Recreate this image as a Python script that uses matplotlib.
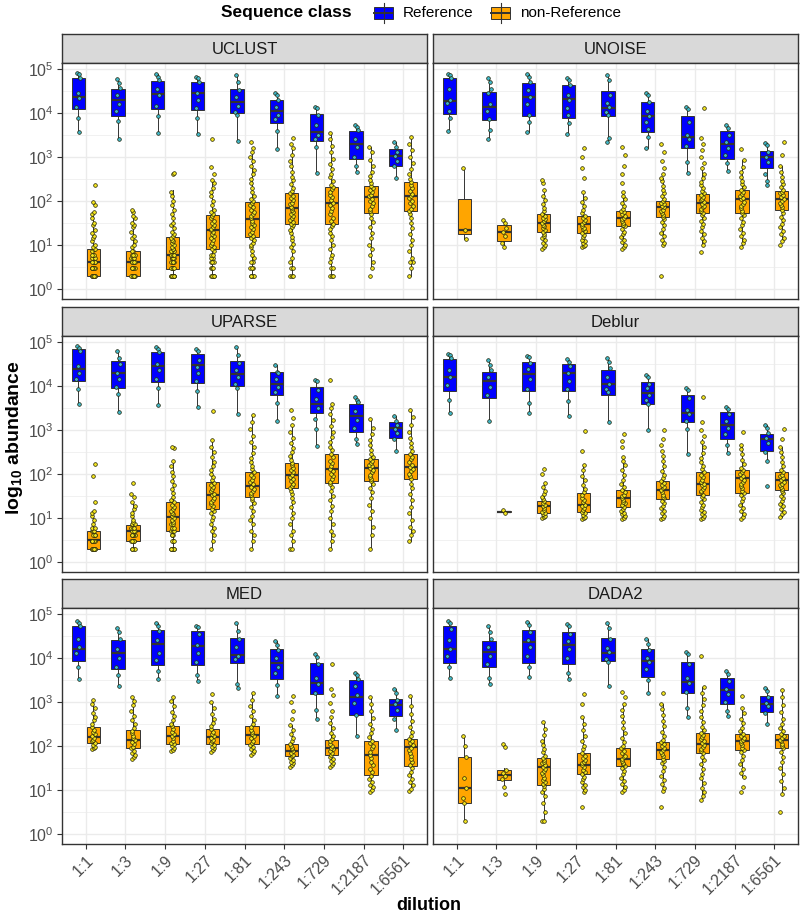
"""Abundance of reference vs non-reference sequences per clustering/denoising method."""

import numpy as np
import matplotlib
matplotlib.use('Agg')
import matplotlib.pyplot as plt
from matplotlib.patches import Rectangle
from matplotlib.ticker import FixedLocator, NullFormatter

plt.rcParams.update({
    'font.family': ['Liberation Sans', 'DejaVu Sans'],
    'mathtext.fontset': 'custom',
    'mathtext.rm': 'Liberation Sans',
    'mathtext.it': 'Liberation Sans:italic',
    'mathtext.bf': 'Liberation Sans:bold',
})

# ── Data (all values are log10 abundance) ────────────────────────────────────
DILUTIONS = ['1:1', '1:3', '1:9', '1:27', '1:81', '1:243', '1:729', '1:2187', '1:6561']
METHODS = ['UCLUST', 'UNOISE', 'UPARSE', 'Deblur', 'MED', 'DADA2']

# box stats per dilution: [lower whisker, q1, median, q3, upper whisker]
UCLUST_REF = [[3.57, 4.08, 4.36, 4.80, 4.90], [3.40, 3.93, 4.28, 4.55, 4.77], [3.55, 4.08, 4.43, 4.73, 4.87],
              [3.51, 4.07, 4.45, 4.70, 4.81], [3.36, 3.99, 4.24, 4.54, 4.86], [3.18, 3.77, 4.03, 4.30, 4.46],
              [2.64, 3.36, 3.57, 3.97, 4.13], [2.66, 2.95, 3.30, 3.58, 3.73], [2.52, 2.80, 3.01, 3.17, 3.33]]
UCLUST_NON = [[0.30, 0.30, 0.61, 0.90, 1.75], [0.30, 0.30, 0.61, 0.85, 1.65], [0.30, 0.46, 0.78, 1.17, 2.25],
              [0.30, 0.90, 1.33, 1.68, 2.48], [0.30, 1.17, 1.59, 1.97, 3.12], [0.30, 1.47, 1.83, 2.17, 3.20],
              [0.30, 1.48, 1.96, 2.31, 3.54], [0.51, 1.73, 2.09, 2.34, 3.23], [0.30, 1.78, 2.11, 2.42, 3.44]]
UNOISE_REF = [[3.58, 3.98, 4.27, 4.80, 4.89], [3.40, 3.83, 4.14, 4.47, 4.78], [3.56, 3.92, 4.36, 4.67, 4.87],
              [3.51, 3.87, 4.31, 4.63, 4.80], [3.34, 3.93, 4.11, 4.50, 4.86], [3.19, 3.57, 3.92, 4.24, 4.46],
              [2.64, 3.20, 3.44, 3.93, 4.13], [2.67, 2.96, 3.30, 3.58, 3.73], [2.37, 2.74, 2.99, 3.13, 3.31]]
UNOISE_NON = [[1.14, 1.24, 1.34, 2.03, 2.74], [0.95, 1.08, 1.30, 1.45, 1.57], [0.90, 1.30, 1.50, 1.70, 2.25],
              [0.94, 1.27, 1.48, 1.66, 2.21], [0.90, 1.42, 1.62, 1.77, 2.21], [1.00, 1.64, 1.85, 1.99, 2.52],
              [1.00, 1.73, 1.95, 2.15, 2.78], [0.96, 1.73, 2.05, 2.25, 2.93], [1.08, 1.80, 2.05, 2.23, 2.78]]
UPARSE_REF = [[3.59, 4.10, 4.38, 4.83, 4.90], [3.40, 3.94, 4.30, 4.56, 4.79], [3.57, 4.09, 4.45, 4.76, 4.89],
              [3.52, 4.07, 4.47, 4.73, 4.83], [3.35, 4.00, 4.26, 4.56, 4.88], [3.20, 3.78, 4.04, 4.32, 4.48],
              [2.64, 3.37, 3.59, 3.98, 4.14], [2.67, 2.96, 3.31, 3.59, 3.75], [2.52, 2.81, 3.05, 3.18, 3.32]]
UPARSE_NON = [[0.30, 0.30, 0.49, 0.71, 1.16], [0.30, 0.48, 0.71, 0.84, 1.35], [0.30, 0.69, 1.01, 1.35, 2.30],
              [0.30, 1.19, 1.53, 1.82, 2.76], [0.30, 1.47, 1.72, 2.03, 3.33], [0.30, 1.68, 1.98, 2.25, 3.10],
              [0.30, 1.79, 2.10, 2.45, 3.44], [0.30, 1.83, 2.14, 2.33, 3.25], [0.48, 1.88, 2.15, 2.44, 3.46]]
DEBLUR_REF = [[3.38, 3.89, 4.19, 4.61, 4.73], [3.20, 3.73, 4.11, 4.32, 4.58], [3.37, 3.89, 4.26, 4.53, 4.68],
              [3.32, 3.89, 4.28, 4.50, 4.60], [3.17, 3.80, 4.04, 4.36, 4.64], [2.99, 3.59, 3.84, 4.09, 4.25],
              [2.44, 3.18, 3.37, 3.78, 3.95], [2.48, 2.79, 3.10, 3.40, 3.52], [2.28, 2.52, 2.79, 2.91, 3.12]]
DEBLUR_NON = [None, [1.12, 1.13, 1.14, 1.16, 1.17], [0.99, 1.11, 1.28, 1.39, 1.79],
              [0.97, 1.14, 1.29, 1.56, 2.19], [0.97, 1.25, 1.44, 1.63, 2.38], [0.97, 1.42, 1.63, 1.83, 2.45],
              [0.97, 1.53, 1.76, 2.04, 2.80], [0.97, 1.57, 1.90, 2.08, 2.66], [1.03, 1.64, 1.85, 2.03, 2.61]]
MED_REF = [[3.52, 3.92, 4.20, 4.71, 4.83], [3.36, 3.74, 4.11, 4.40, 4.68], [3.52, 3.84, 4.32, 4.62, 4.79],
           [3.48, 3.83, 4.27, 4.60, 4.73], [3.32, 3.89, 4.06, 4.45, 4.79], [3.13, 3.52, 3.88, 4.20, 4.38],
           [2.61, 3.18, 3.42, 3.88, 4.08], [2.23, 2.71, 3.11, 3.50, 3.65], [2.35, 2.67, 2.92, 3.06, 3.29]]
MED_NON = [[1.92, 2.07, 2.20, 2.42, 3.03], [1.70, 1.95, 2.14, 2.35, 3.11], [1.88, 2.03, 2.23, 2.45, 3.11],
           [1.86, 2.05, 2.20, 2.39, 2.99], [1.80, 2.03, 2.25, 2.46, 3.20], [1.52, 1.77, 1.89, 2.05, 2.47],
           [1.52, 1.80, 1.95, 2.14, 2.65], [0.95, 1.34, 1.80, 2.11, 3.11], [0.98, 1.54, 1.97, 2.15, 3.14]]
DADA2_REF = [[3.55, 3.89, 4.20, 4.73, 4.83], [3.41, 3.80, 4.14, 4.39, 4.71], [3.56, 3.89, 4.35, 4.62, 4.81],
             [3.52, 3.86, 4.30, 4.59, 4.76], [3.36, 3.92, 4.11, 4.45, 4.80], [3.20, 3.57, 3.92, 4.20, 4.42],
             [2.65, 3.19, 3.44, 3.90, 4.12], [2.67, 2.95, 3.26, 3.55, 3.71], [2.50, 2.77, 2.95, 3.14, 3.31]]
DADA2_NON = [[0.30, 0.70, 1.04, 1.74, 2.23], [1.06, 1.23, 1.34, 1.45, 1.50], [0.30, 1.11, 1.52, 1.73, 2.54],
             [0.95, 1.36, 1.57, 1.84, 2.65], [0.95, 1.54, 1.69, 1.95, 2.95], [0.98, 1.70, 1.91, 2.08, 2.95],
             [0.77, 1.83, 2.05, 2.29, 3.33], [1.29, 1.91, 2.12, 2.27, 2.86], [0.91, 1.95, 2.14, 2.27, 3.26]]

# individual observations ("v*n" = n observations at v)
UCLUST_REF_PTS = ["4.90 4.88 4.79 4.45 4.33 4.14 3.87 3.57", "4.77 4.68 4.57 4.40 4.20 4.05 3.82 3.40",
                  "4.87 4.82 4.75 4.55 4.40 4.15 3.93 3.55", "4.81 4.78 4.70 4.45 4.30 4.10 3.88 3.51",
                  "4.86 4.70 4.52 4.36 4.15 4.02 3.95 3.36", "4.46 4.40 4.30 4.12 3.95 3.85 3.58 3.18",
                  "4.13 4.10 3.95 3.72 3.50 3.40 3.22 2.64", "3.73 3.67 3.60 3.40 3.22 3.00 2.78 2.66",
                  "3.33 3.22 3.10 3.02 2.90 2.78 2.52"]
UCLUST_NON_PTS = [
    "0.30*8 0.48*6 0.60*5 0.70*4 0.78*3 0.85 0.90*2 0.95 1.0 1.08 1.15 1.2 1.28 1.34 1.45 1.5 1.62 1.7 1.75 1.9 1.97 2.36",
    "0.30*8 0.48*5 0.60*5 0.70*3 0.78*3 0.85*2 0.95 1.0 1.08 1.15 1.2 1.3 1.4 1.45 1.5 1.6 1.65 1.74 1.8",
    "0.30*10 0.48*6 0.60*5 0.70*4 0.78*4 0.85*3 0.90*2 0.95 1.0 1.04 1.08 1.11 1.15 1.2 1.25 1.3 1.38 1.45 1.5 1.6 "
    "1.7 1.8 1.9 2.0 2.1 2.2 2.6 2.63",
    "0.30*5 0.48*3 0.60*3 0.70*2 0.78*2 0.85 0.90 0.95 1.0 1.05 1.1 1.15 1.2 1.25 1.3 1.33 1.36 1.4 1.45 1.5 1.55 1.6 "
    "1.65 1.7 1.75 1.8 1.9 2.0 2.1 2.2 2.3 2.4 2.48 2.6 2.77 3.41",
    "0.30*4 0.48*3 0.60*2 0.70 0.78 0.85 0.95 1.0 1.05 1.1 1.15 1.2 1.25 1.3 1.35 1.4 1.45 1.5 1.55 1.6 1.65 1.7 1.75 "
    "1.8 1.85 1.9 1.95 2.0 2.05 2.1 2.2 2.3 2.4 2.5 2.6 2.7 2.8 2.9 3.0 3.1 3.2 3.33",
    "0.30*3 0.48*2 0.60 0.70 0.85 0.95 1.02 1.1 1.18 1.26 1.33 1.4 1.44 1.48 1.52 1.57 1.61 1.66 1.7 1.74 1.79 1.83 "
    "1.87 1.92 1.96 2.01 2.06 2.12 2.17 2.23 2.3 2.38 2.47 2.55 2.66 2.78 2.9 3.05 3.2 3.3 3.42",
    "0.30*3 0.48*2 0.60 0.70 0.78 0.9 1.0 1.1 1.2 1.28 1.36 1.42 1.48 1.55 1.62 1.7 1.77 1.84 1.9 1.96 2.02 2.08 2.14 "
    "2.2 2.26 2.31 2.37 2.45 2.53 2.62 2.72 2.84 2.96 3.1 3.25 3.4 3.54",
    "0.30 0.48 0.60 0.78 0.9 1.0 1.15 1.28 1.4 1.52 1.62 1.7 1.76 1.82 1.88 1.94 2.0 2.05 2.1 2.14 2.19 2.24 2.29 2.34 "
    "2.4 2.47 2.56 2.66 2.78 2.92 3.1 3.23",
    "0.30 0.48 0.60*2 0.70 0.85 1.0 1.12 1.25 1.38 1.5 1.6 1.7 1.76 1.82 1.88 1.94 2.0 2.06 2.11 2.16 2.22 2.28 2.35 "
    "2.42 2.5 2.6 2.72 2.86 3.0 3.15 3.3 3.44",
]
UNOISE_REF_PTS = ["4.89 4.86 4.80 4.55 4.30 4.22 4.05 3.87 3.58", "4.78 4.70 4.55 4.45 4.20 4.05 3.85 3.60 3.40",
                  "4.87 4.82 4.70 4.52 4.36 4.20 3.95 3.80 3.56", "4.80 4.75 4.62 4.40 4.28 4.10 3.95 3.76 3.51",
                  "4.86 4.75 4.40 4.22 4.12 4.02 3.95 3.42 3.34", "4.46 4.40 4.25 4.05 3.92 3.80 3.62 3.45 3.19",
                  "4.13 4.08 3.78 3.50 3.40 3.25 2.88 2.64", "3.73 3.66 3.50 3.33 3.20 3.05 2.85 2.67",
                  "3.31 3.26 3.10 2.99 2.88 2.60 2.45 2.37"]
UNOISE_NON_PTS = [
    "2.74 1.34 1.14",
    "1.57 1.5 1.38 1.3 1.2 1.05 0.95",
    "0.9 0.95 1.0 1.05 1.1 1.15 1.2 1.25 1.3 1.34 1.38 1.42 1.46 1.5 1.54 1.58 1.62 1.66 1.7 1.76 1.84 1.93 2.02 2.12 "
    "2.25 2.4 2.48",
    "0.94 0.97 1.0 1.04 1.08 1.12 1.17 1.22 1.27 1.31 1.35 1.39 1.43 1.48 1.52 1.56 1.6 1.66 1.72 1.8 1.88 1.97 2.07 "
    "2.21 2.52 2.74 3.0 3.21",
    "0.9 0.95 1.0 1.06 1.12 1.18 1.24 1.3 1.36 1.42 1.46 1.5 1.54 1.58 1.62 1.66 1.7 1.74 1.77 1.82 1.88 1.95 2.03 "
    "2.12 2.21 2.4 2.6 2.8 3.05 3.22",
    "0.30 1.0 1.05 1.12 1.2 1.28 1.36 1.44 1.52 1.58 1.64 1.68 1.72 1.76 1.8 1.85 1.89 1.93 1.96 1.99 2.04 2.1 2.17 "
    "2.25 2.34 2.44 2.52 2.62 2.75 2.9 3.1 3.28",
    "0.84 1.0 1.08 1.16 1.24 1.32 1.4 1.48 1.55 1.62 1.68 1.73 1.77 1.81 1.85 1.89 1.93 1.97 2.01 2.05 2.09 2.13 2.17 "
    "2.22 2.28 2.35 2.43 2.52 2.62 2.74 2.86 3.0 3.15 3.3 3.42 4.11",
    "0.96 1.04 1.12 1.2 1.28 1.36 1.44 1.52 1.6 1.67 1.73 1.78 1.83 1.88 1.93 1.98 2.03 2.07 2.11 2.15 2.2 2.25 2.31 "
    "2.38 2.46 2.55 2.65 2.77 2.93 3.18",
    "1.0 1.08 1.16 1.24 1.32 1.4 1.48 1.56 1.64 1.72 1.8 1.85 1.9 1.95 2.0 2.05 2.09 2.13 2.17 2.21 2.25 2.31 2.38 "
    "2.46 2.55 2.65 2.78 3.05 3.33",
]
UPARSE_REF_PTS = ["4.90 4.86 4.80 4.45 4.30 4.15 3.92 3.59", "4.79 4.62 4.50 4.30 4.15 3.98 3.82 3.40",
                  "4.89 4.84 4.76 4.50 4.35 4.15 3.95 3.57", "4.83 4.78 4.58 4.42 4.28 4.10 3.88 3.52",
                  "4.88 4.70 4.52 4.36 4.20 4.05 3.95 3.35", "4.48 4.32 4.28 4.15 3.98 3.85 3.60 3.20",
                  "4.14 4.10 3.90 3.70 3.50 3.25 3.02 2.64", "3.75 3.68 3.62 3.42 3.22 3.05 2.80 2.67",
                  "3.32 3.20 3.12 3.02 2.92 2.78 2.52"]
UPARSE_NON_PTS = [
    "0.30*8 0.48*6 0.60*4 0.70*3 0.78*2 0.85 0.95 1.04 1.11 1.16 1.35 1.95 2.23",
    "0.30*4 0.48*5 0.60*5 0.70*4 0.78*3 0.85*2 0.90 0.95 1.04 1.11 1.2 1.26 1.35 1.48 1.54 1.80",
    "0.30*6 0.48*4 0.60*3 0.70*3 0.78*2 0.85*2 0.90 0.95 1.0 1.04 1.08 1.11 1.15 1.2 1.25 1.3 1.35 1.4 1.48 1.56 1.65 "
    "1.74 1.84 1.95 2.05 2.18 2.3 2.58 2.61",
    "0.30 0.48 0.60 0.70 0.78 0.85 0.95 1.02 1.1 1.16 1.21 1.26 1.31 1.36 1.41 1.46 1.51 1.55 1.6 1.65 1.7 1.75 1.8 "
    "1.86 1.93 2.0 2.08 2.17 2.27 2.38 2.5 2.62 2.76 3.42",
    "0.30 0.48 0.60 0.70 0.85 0.95 1.05 1.15 1.25 1.33 1.4 1.46 1.51 1.56 1.61 1.66 1.71 1.76 1.81 1.86 1.92 1.98 2.04 "
    "2.1 2.18 2.27 2.37 2.48 2.6 2.73 2.87 3.02 3.17 3.33",
    "0.30*2 0.48 0.60 0.70 0.85 1.0 1.12 1.24 1.36 1.46 1.55 1.62 1.68 1.73 1.78 1.83 1.88 1.93 1.98 2.03 2.08 2.13 "
    "2.19 2.25 2.32 2.4 2.49 2.59 2.7 2.82 2.96 3.1 3.27 3.44",
    "0.30 0.48 0.60 0.70 0.85 1.0 1.15 1.28 1.4 1.5 1.6 1.7 1.76 1.82 1.88 1.94 2.0 2.06 2.12 2.18 2.24 2.3 2.38 2.45 "
    "2.53 2.62 2.72 2.83 2.95 3.08 3.22 3.36 3.5 3.58 4.13",
    "0.30 0.6 0.8 1.0 1.15 1.3 1.45 1.58 1.68 1.76 1.83 1.88 1.93 1.98 2.03 2.08 2.13 2.17 2.21 2.25 2.29 2.33 2.39 "
    "2.46 2.55 2.65 2.77 2.9 3.05 3.25",
    "0.48 0.6 0.7 0.8 0.95 1.1 1.25 1.4 1.55 1.68 1.78 1.88 1.94 2.0 2.06 2.11 2.16 2.21 2.27 2.33 2.39 2.44 2.51 2.6 "
    "2.7 2.82 2.95 3.1 3.28 3.46",
]
DEBLUR_REF_PTS = ["4.73 4.70 4.62 4.35 4.19 4.02 3.68 3.38", "4.58 4.48 4.35 4.20 3.98 3.80 3.20",
                  "4.68 4.65 4.52 4.38 4.15 3.92 3.60 3.37", "4.60 4.55 4.45 4.30 4.10 3.92 3.65 3.32",
                  "4.64 4.55 4.40 4.20 4.05 3.92 3.85 3.17", "4.25 4.20 4.05 3.95 3.80 3.68 3.58 2.99",
                  "3.95 3.90 3.72 3.45 3.35 3.20 3.02 2.44", "3.52 3.48 3.35 3.20 3.05 2.90 2.65 2.48",
                  "3.12 3.05 2.93 2.82 2.70 2.50 2.28 1.72"]
DEBLUR_NON_PTS = [
    "",
    "1.18 1.12",
    "0.99 1.02 1.05 1.08 1.11 1.14 1.18 1.22 1.26 1.3 1.34 1.38 1.42 1.48 1.55 1.62 1.7 1.79 1.99 2.10",
    "0.97 1.0 1.03 1.06 1.1 1.14 1.18 1.22 1.26 1.3 1.35 1.4 1.46 1.52 1.58 1.66 1.75 1.85 1.96 2.08 2.19 2.52 2.97",
    "0.97 1.0 1.04 1.08 1.12 1.16 1.2 1.25 1.29 1.33 1.37 1.41 1.45 1.49 1.53 1.58 1.63 1.7 1.78 1.87 1.97 2.08 2.2 "
    "2.3 2.38 2.6 2.75 2.91",
    "0.97 1.0 1.05 1.1 1.16 1.22 1.28 1.34 1.39 1.44 1.48 1.53 1.58 1.63 1.67 1.71 1.75 1.79 1.83 1.9 1.98 2.07 2.17 "
    "2.28 2.4 2.52 2.66 2.8 2.99",
    "0.97 1.0 1.04 1.08 1.13 1.18 1.24 1.3 1.36 1.42 1.48 1.53 1.58 1.62 1.66 1.7 1.74 1.78 1.82 1.87 1.92 1.98 2.04 "
    "2.1 2.18 2.27 2.37 2.48 2.6 2.72 2.86 3.0 3.18 3.75",
    "0.97 1.02 1.08 1.15 1.22 1.3 1.38 1.45 1.52 1.57 1.62 1.67 1.72 1.77 1.82 1.87 1.91 1.95 2.0 2.04 2.08 2.14 2.22 "
    "2.32 2.44 2.56 2.66 2.95",
    "1.03 1.08 1.14 1.2 1.26 1.32 1.38 1.44 1.5 1.56 1.61 1.65 1.7 1.74 1.78 1.82 1.86 1.9 1.94 1.98 2.03 2.09 2.17 "
    "2.27 2.38 2.5 2.61 2.8 3.02",
]
MED_REF_PTS = ["4.83 4.78 4.72 4.42 4.25 4.10 3.78 3.52", "4.68 4.58 4.42 4.20 4.00 3.80 3.60 3.36",
               "4.79 4.72 4.60 4.40 4.10 3.95 3.70 3.52", "4.73 4.70 4.55 4.30 4.10 3.90 3.60 3.48",
               "4.79 4.60 4.42 4.25 4.05 3.98 3.40 3.32", "4.38 4.30 4.18 4.00 3.80 3.65 3.38 3.13",
               "4.08 4.02 3.85 3.55 3.40 3.20 2.82 2.61", "3.65 3.60 3.52 3.35 3.15 2.98 2.70 2.23",
               "3.29 3.20 3.05 2.95 2.82 2.60 2.35"]
MED_NON_PTS = [
    "1.92 1.95 1.98 2.02 2.06 2.1 2.14 2.18 2.22 2.26 2.31 2.37 2.43 2.5 2.58 2.66 2.74 2.85 2.95 3.03",
    "1.70 1.74 1.79 1.84 1.89 1.94 1.98 2.03 2.08 2.13 2.18 2.23 2.28 2.34 2.41 2.49 2.58 2.68 2.8 2.92 3.02 3.11",
    "1.88 1.91 1.95 1.99 2.03 2.07 2.12 2.17 2.22 2.27 2.32 2.38 2.44 2.5 2.58 2.67 2.77 2.9 3.02 3.11",
    "1.86 1.9 1.94 1.98 2.02 2.06 2.1 2.14 2.18 2.22 2.27 2.32 2.38 2.44 2.52 2.62 2.72 2.85 2.99 3.18",
    "1.8 1.84 1.88 1.92 1.97 2.02 2.07 2.12 2.17 2.22 2.27 2.32 2.37 2.43 2.5 2.58 2.67 2.78 2.9 3.05 3.2",
    "1.52 1.56 1.6 1.64 1.68 1.72 1.76 1.8 1.84 1.88 1.92 1.96 2.0 2.05 2.11 2.18 2.26 2.36 2.47 2.62 2.8 3.0 3.14",
    "1.52 1.56 1.6 1.65 1.7 1.75 1.8 1.84 1.88 1.92 1.96 2.0 2.05 2.1 2.15 2.22 2.3 2.4 2.52 2.65 2.8 2.98 3.15 3.3 "
    "3.85",
    "0.95 1.0 1.06 1.12 1.18 1.25 1.32 1.4 1.48 1.56 1.64 1.72 1.8 1.87 1.94 2.0 2.06 2.12 2.19 2.28 2.38 2.5 2.64 2.8 "
    "2.96 3.11",
    "0.98 1.03 1.1 1.17 1.25 1.33 1.41 1.49 1.56 1.63 1.7 1.77 1.84 1.9 1.96 2.01 2.06 2.11 2.16 2.23 2.32 2.43 2.56 "
    "2.72 2.9 3.14",
]
DADA2_REF_PTS = ["4.83 4.78 4.65 4.40 4.20 4.05 3.80 3.55", "4.71 4.58 4.42 4.25 4.05 3.85 3.55 3.41",
                 "4.81 4.75 4.58 4.40 4.25 4.05 3.78 3.56", "4.76 4.72 4.55 4.38 4.20 4.00 3.65 3.52",
                 "4.80 4.68 4.42 4.22 4.12 3.98 3.90 3.36", "4.42 4.32 4.18 4.00 3.90 3.75 3.50 3.20",
                 "4.12 4.08 3.85 3.55 3.42 3.22 2.85 2.65", "3.71 3.62 3.48 3.30 3.18 3.00 2.78 2.67",
                 "3.31 3.25 3.12 2.98 2.90 2.75 2.50"]
DADA2_NON_PTS = [
    "2.23 2.0 1.74 1.26 1.05 0.82 0.70 0.30",
    "2.05 1.97 1.45 1.38 1.32 1.25 1.06 0.91",
    "0.30*2 0.5 0.7 0.85 0.95 1.02 1.08 1.13 1.18 1.23 1.28 1.33 1.38 1.43 1.48 1.52 1.56 1.6 1.64 1.68 1.72 1.78 "
    "1.85 1.93 2.02 2.12 2.24 2.38 2.54",
    "0.61 0.95 1.0 1.06 1.12 1.18 1.24 1.3 1.36 1.41 1.46 1.51 1.56 1.6 1.64 1.68 1.73 1.78 1.84 1.92 2.0 2.1 2.22 "
    "2.35 2.5 2.65 2.95 3.18",
    "0.95 1.0 1.06 1.13 1.2 1.28 1.36 1.43 1.5 1.54 1.58 1.62 1.66 1.7 1.74 1.78 1.83 1.88 1.94 2.0 2.08 2.17 2.28 "
    "2.4 2.54 2.68 2.82 2.95 3.1 3.22",
    "0.61 0.98 1.05 1.13 1.22 1.32 1.42 1.52 1.6 1.66 1.71 1.76 1.81 1.86 1.91 1.95 2.0 2.04 2.08 2.14 2.22 2.32 2.44 "
    "2.57 2.7 2.84 2.95 3.2",
    "0.77 0.85 0.95 1.05 1.15 1.26 1.37 1.48 1.58 1.67 1.75 1.83 1.88 1.93 1.98 2.02 2.06 2.1 2.15 2.2 2.25 2.29 2.35 "
    "2.43 2.53 2.65 2.78 2.92 3.06 3.2 3.33 4.04",
    "0.95 1.06 1.29 1.38 1.48 1.58 1.68 1.77 1.85 1.91 1.96 2.01 2.06 2.1 2.14 2.18 2.22 2.27 2.33 2.41 2.51 2.62 "
    "2.74 2.86 3.14",
    "0.49 0.91 1.05 1.2 1.35 1.5 1.63 1.75 1.85 1.95 2.0 2.05 2.1 2.14 2.18 2.22 2.27 2.33 2.41 2.5 2.62 2.76 2.92 "
    "3.1 3.26",
]

PANELS = [
    (UCLUST_REF, UCLUST_NON, UCLUST_REF_PTS, UCLUST_NON_PTS),
    (UNOISE_REF, UNOISE_NON, UNOISE_REF_PTS, UNOISE_NON_PTS),
    (UPARSE_REF, UPARSE_NON, UPARSE_REF_PTS, UPARSE_NON_PTS),
    (DEBLUR_REF, DEBLUR_NON, DEBLUR_REF_PTS, DEBLUR_NON_PTS),
    (MED_REF, MED_NON, MED_REF_PTS, MED_NON_PTS),
    (DADA2_REF, DADA2_NON, DADA2_REF_PTS, DADA2_NON_PTS),
]

# ── Style ────────────────────────────────────────────────────────────────────
REF_FILL = '#0000FF'
NON_FILL = '#FFA500'
REF_PT = '#3FB6C8'
NON_PT = '#F2E41E'
EDGE = '#333333'
GRID = '#EBEBEB'
TICK_TXT = '#4D4D4D'

W, H = 800, 918
COL_X = [62, 433]
PANEL_W = 365
ROW_TOP = [34, 307, 579]
STRIP_H = 29
PANEL_H = 236
DODGE = 0.19
BOX_W = 0.34
JIT = np.array([-0.035, 0.015, 0.045, -0.015, 0.03, -0.045, 0.0, 0.02, -0.03, 0.04, -0.005, 0.01, -0.025])


def parse(s):
    out = []
    for tok in s.split():
        if '*' in tok:
            v, n = tok.split('*')
            out += [float(v)] * int(n)
        else:
            out.append(float(tok))
    return np.array(out)


def px_axes(x0, y0, w, h):
    return fig.add_axes([x0 / W, 1 - (y0 + h) / H, w / W, h / H])


def bstats(s):
    lo, q1, med, q3, hi = (10 ** np.array(s)).tolist()
    return dict(whislo=lo, q1=q1, med=med, q3=q3, whishi=hi, fliers=[])


fig = plt.figure(figsize=(W / 100, H / 100), dpi=100)
xs = np.arange(len(DILUTIONS))

for i, (name, (ref, non, ref_pts, non_pts)) in enumerate(zip(METHODS, PANELS)):
    row, col = divmod(i, 2)
    x0 = COL_X[col]
    top = ROW_TOP[row]

    # strip
    sax = px_axes(x0, top, PANEL_W, STRIP_H)
    sax.set_facecolor('#D9D9D9')
    sax.set_xticks([]); sax.set_yticks([])
    for sp in sax.spines.values():
        sp.set_color(EDGE); sp.set_linewidth(1.0)
    sax.text(0.5, 0.48, name, ha='center', va='center', fontsize=12,
             color='#1A1A1A', transform=sax.transAxes)

    ax = px_axes(x0, top + STRIP_H, PANEL_W, PANEL_H)
    ax.set_yscale('log')
    ax.set_xlim(-0.6, len(DILUTIONS) - 0.4)
    ax.set_ylim(10 ** -0.23, 10 ** 5.13)

    for stats, pts_list, off, fill, pcol in ((ref, ref_pts, -DODGE, REF_FILL, REF_PT),
                                            (non, non_pts, DODGE, NON_FILL, NON_PT)):
        idx = [k for k in xs if stats[k] is not None]
        ax.bxp([bstats(stats[k]) for k in idx], positions=[k + off for k in idx],
               widths=BOX_W, patch_artist=True, showcaps=False, showfliers=False,
               boxprops=dict(facecolor=fill, edgecolor=EDGE, linewidth=0.7),
               medianprops=dict(color=EDGE, linewidth=1.6),
               whiskerprops=dict(color=EDGE, linewidth=0.7),
               manage_ticks=False, zorder=2)
        for k in xs:
            v = parse(pts_list[k])
            if len(v) == 0:
                continue
            jx = k + off + np.resize(JIT, len(v))
            ax.scatter(jx, 10 ** v, s=7, facecolor=pcol, edgecolor='#24240A',
                       linewidths=0.5, zorder=3)

    # grid + axes
    ax.set_xticks(xs)
    ax.yaxis.set_major_locator(FixedLocator([10.0 ** k for k in range(6)]))
    ax.yaxis.set_minor_locator(FixedLocator([10 ** (k + 0.5) for k in range(5)]))
    ax.yaxis.set_minor_formatter(NullFormatter())
    ax.set_yticklabels([f'$10^{{{k}}}$' for k in range(6)])
    ax.grid(True, which='major', color=GRID, linewidth=1.0, zorder=0)
    ax.grid(True, which='minor', axis='y', color=GRID, linewidth=0.5, zorder=0)
    ax.set_axisbelow(True)
    for sp in ax.spines.values():
        sp.set_color(EDGE); sp.set_linewidth(1.0)
    ax.tick_params(which='major', length=3.5, width=0.8, color=EDGE,
                   labelcolor=TICK_TXT, labelsize=11.5, pad=2.5)
    ax.tick_params(which='minor', length=0)
    if row == 2:
        ax.set_xticklabels(DILUTIONS, rotation=45, ha='right', rotation_mode='anchor')
    else:
        ax.tick_params(axis='x', bottom=False, labelbottom=False)
    if col == 1:
        ax.tick_params(axis='y', left=False, labelleft=False)

# ── Titles & legend ──────────────────────────────────────────────────────────
ov = fig.add_axes([0, 0, 1, 1], zorder=-1)
ov.set_xlim(0, W); ov.set_ylim(H, 0); ov.axis('off')

ov.text(15, 438, r'log$_{\mathbf{10}}$ abundance', rotation=90, ha='center', va='center',
        fontsize=14, fontweight='bold', color='black')
ov.text(429, 905, 'dilution', ha='center', va='center', fontsize=13,
        fontweight='bold', color='black')

ov.text(352, 13, 'Sequence class', ha='right', va='center', fontsize=12.5,
        fontweight='bold', color='black')
for kx, fill, label in ((374, REF_FILL, 'Reference'), (491, NON_FILL, 'non-Reference')):
    ov.plot([kx + 9.5, kx + 9.5], [3, 23], color=EDGE, lw=0.8)
    ov.add_patch(Rectangle((kx, 7), 19, 12, facecolor=fill, edgecolor=EDGE, lw=0.7))
    ov.plot([kx, kx + 19], [13, 13], color=EDGE, lw=1.4)
    ov.text(kx + 29, 13, label, ha='left', va='center', fontsize=11, color='black')

fig.savefig('out.png', dpi=100)
